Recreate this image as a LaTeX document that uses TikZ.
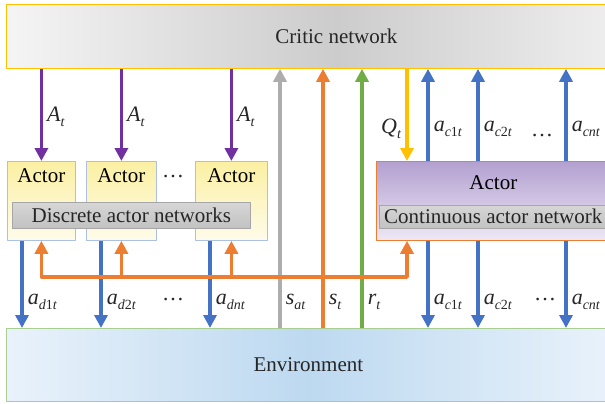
\documentclass[tikz,border=0pt]{standalone}
\usepackage{fontspec}
\setmainfont{Liberation Serif}
\usetikzlibrary{arrows.meta}

\definecolor{actpurple}{HTML}{7030A0}
\definecolor{actblue}{HTML}{4472C4}
\definecolor{fborange}{HTML}{ED7D31}
\definecolor{rwgreen}{HTML}{70AD47}
\definecolor{stgray}{HTML}{ADADAD}
\definecolor{qyellow}{HTML}{FFC000}
\definecolor{txt}{HTML}{262626}
\definecolor{envside}{HTML}{E9F2FB}
\definecolor{envmid}{HTML}{BDD9F0}
\definecolor{actortop}{HTML}{FBF0A2}
\definecolor{actorbot}{HTML}{FEFBEA}
\definecolor{conttop}{HTML}{B3A0D0}
\definecolor{contbot}{HTML}{EEE8F5}

% italic symbol with a lowered subscript
\newcommand{\subfont}{\fontsize{14}{14}\selectfont}
\newcommand{\chan}[2]{\textit{#1}\raisebox{-4.5pt}{\subfont #2}}

\tikzset{
  panel/.style={draw, rectangle, inner sep=0pt, anchor=north west, line width=0.8pt, text=txt},
  criticbox/.style={panel, draw=qyellow, left color=black!4, right color=black!4, middle color=black!20},
  envbox/.style={panel, draw=rwgreen!60, left color=envside, right color=envside, middle color=envmid},
  dactor/.style={panel, draw=actblue!45, top color=actortop, bottom color=actorbot, minimum height=79pt},
  cactor/.style={panel, draw=fborange, top color=conttop, bottom color=contbot, minimum height=79pt},
  netbar/.style={panel, draw=black!35, top color=black!16, bottom color=black!24, line width=0.6pt},
  sig/.style={line width=3.5pt, ->},
  siglabel/.style={font=\fontsize{22}{26}\selectfont, text=txt, inner sep=4pt},
}

\begin{document}
\begin{tikzpicture}[x=1pt, y=-1pt, font=\fontsize{21}{25}\selectfont, line join=round, >={Triangle[width=13pt,length=13pt]}]
\useasboundingbox (0,0) rectangle (605,404);

% critic on top, environment below
\node[criticbox, minimum width=660pt, minimum height=64pt] (critic) at (6,4) {Critic network};
\node[envbox, minimum width=604pt, minimum height=73pt] (env) at (6,328) {Environment};

% actors
\node[dactor, minimum width=68pt] (d1) at (7,161) {};
\node[dactor, minimum width=70pt] (d2) at (86,161) {};
\node[dactor, minimum width=72pt] (dn) at (195,161) {};
\node[cactor, minimum width=234pt] (cont) at (376,161) {};
\foreach \a in {d1,d2,dn}
  \node (t\a) at ([yshift=-15pt]\a.north) {Actor};
\node (tcont) at ([yshift=-22pt]cont.north) {Actor};
\node[netbar, minimum width=238pt, minimum height=26pt] (dnet) at (12,202) {Discrete actor networks};
\node[netbar, minimum width=228pt, minimum height=23pt] (cnet) at (379,205) {Continuous actor network};

\node[siglabel, anchor=base] (dotsA) at (173,177) {\dots};
\node[siglabel, anchor=base] (dotsB) at (542,136) {\dots};
\node[siglabel, anchor=base] (dotsC) at (173,300) {\dots};
\node[siglabel, anchor=base] (dotsD) at (545,300) {\dots};

\coordinate (bus) at (0,277);
\coordinate (sat) at (280,0);
\coordinate (st) at (323,0);
\coordinate (rt) at (362,0);
\coordinate (q) at ([xshift=31pt]cont.south west);

% discrete actions
\foreach \a in {d1,d2,dn}
  \draw[sig, actpurple] (\a.north |- critic.south) -- node[siglabel, right, pos=0.52] (A\a) {\chan{A}{\textit{t}}} (\a.north);
\foreach \a/\s in {d1/{\textit{d}1\textit{t}}, d2/{\textit{d}2\textit{t}}, dn/{\textit{dnt}}} {
  \path ([xshift=15pt]\a.south west) coordinate (o\a);
  \draw[sig, actblue] (o\a) -- node[siglabel, right, pos=0.7] (a\a) {\chan{a}{\s}} (o\a |- env.north);
}

% states and reward
\draw[sig, stgray] (sat |- env.north) -- node[siglabel, right, pos=0.1] (lsat) {\chan{s}{\textit{at}}} (sat |- critic.south);
\draw[sig, fborange] (st |- env.north) -- node[siglabel, right, pos=0.1] (lst) {\chan{s}{\textit{t}}} (st |- critic.south);
\draw[sig, rwgreen] (rt |- env.north) -- node[siglabel, right, pos=0.1] (lrt) {\chan{r}{\textit{t}}} (rt |- critic.south);

% state fed back to the actors
\draw[sig, fborange, <->] (q) |- (d1.south |- bus) -- (d1.south);
\foreach \a in {d2,dn}
  \draw[sig, fborange] (\a.south |- bus) -- (\a.south);

% Q value and continuous actions
\draw[sig, qyellow] (q |- critic.south) -- node[siglabel, left, pos=0.65] (Q) {\chan{Q}{\textit{t}}} (q |- cont.north);
\foreach \dx/\s in {52/{\textit{c}1\textit{t}}, 102/{\textit{c}2\textit{t}}, 190/{\textit{cnt}}} {
  \path ([xshift=\dx pt]cont.north west) coordinate (c\dx);
  \draw[sig, actblue] (c\dx) -- node[siglabel, right, pos=0.35] (up\dx) {\chan{a}{\s}} (c\dx |- critic.south);
  \draw[sig, actblue] (c\dx |- cont.south) -- node[siglabel, right, pos=0.7] (lo\dx) {\chan{a}{\s}} (c\dx |- env.north);
}
\end{tikzpicture}
\end{document}
